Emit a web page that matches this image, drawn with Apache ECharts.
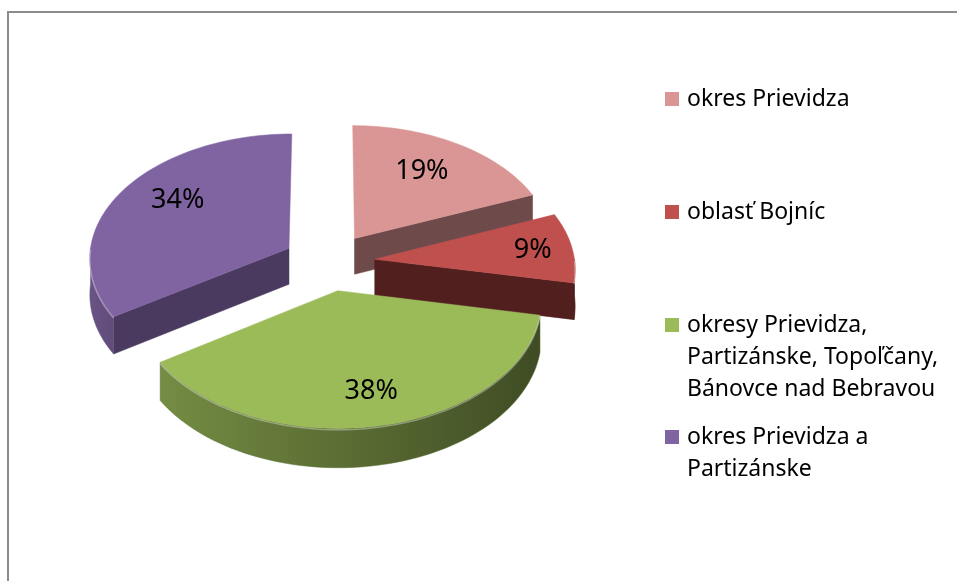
<!DOCTYPE html>
<html>
<head>
<meta charset="utf-8">
<script src="https://cdn.jsdelivr.net/npm/echarts@6/dist/echarts.min.js"></script>
<style>
html, body { margin: 0; padding: 0; background: #fff; }
#chart { width: 957px; height: 581px; }
</style>
</head>
<body>
<div id="chart"></div>
<script>
// data
const categories = ['okres Prievidza', 'oblasť Bojníc', 'okresy Prievidza, Partizánske, Topoľčany, Bánovce nad Bebravou', 'okres Prievidza a Partizánske'];
const legendLabels = ['okres Prievidza', 'oblasť Bojníc', 'okresy Prievidza,\nPartizánske, Topoľčany,\nBánovce nad Bebravou', 'okres Prievidza a\nPartizánske'];
const values = [19, 9, 38, 34];

// styles
const topColors = ['#D99694', '#C0504D', '#9BBB59', '#8064A2'];
const wallColors = ['#6E4B4A', '#521F1F', '#3E4E20', '#4B3A5F'];
const labelRadius = [0.64, 0.8, 0.82, 0.66];
const labelLift = [5, 0, 9, 10];
const seriesZ = [2, 3, 4, 2];
const legendLineCenters = [99, 212, 325, 437];

const FONT = 'Noto Sans';
const EXPLODE = 0.23;   // slice offset, in radii
const DEPTH = 0.29;     // thickness, in y units
const PERSP = 0.07;

const total = values.reduce((a, b) => a + b, 0);
let acc = 0;
const slices = values.map(v => {
  const s = acc / total * 360;
  acc += v;
  return [s, acc / total * 360, v];
});

function shade(hex, f) {
  const n = parseInt(hex.slice(1), 16);
  const c = [(n >> 16) & 255, (n >> 8) & 255, n & 255].map(x => Math.round(x * f));
  return 'rgb(' + c.join(',') + ')';
}
function sideFactor(deg) {
  return 0.38 + 0.45 * (deg - 90) / 180;
}

function makeRender(idx) {
  return function (params, api) {
    const s = api.value(0), e = api.value(1), val = api.value(2);
    const mid = (s + e) / 2 * Math.PI / 180;
    const ox = EXPLODE * Math.sin(mid), oy = -EXPLODE * Math.cos(mid);
    const pt = (deg, r, h) => {
      const a = deg * Math.PI / 180;
      const u = ox + r * Math.sin(a);
      const v = oy - r * Math.cos(a);
      const p = 1 + PERSP * v;
      return api.coord([u * p, (v + h) * p]);
    };
    const arc = (a, b, h) => {
      const pts = [];
      const n = Math.max(2, Math.ceil((b - a) / 2));
      for (let k = 0; k <= n; k++) pts.push(pt(a + (b - a) * k / n, 1, h));
      return pts;
    };
    const children = [];
    const col = topColors[idx];
    // radial walls
    if (-Math.sin(s * Math.PI / 180) > 0.01) {
      children.push({ type: 'polygon', shape: { points: [pt(s, 0, 0), pt(s, 1, 0), pt(s, 1, DEPTH), pt(s, 0, DEPTH)] },
        style: { fill: wallColors[idx], stroke: wallColors[idx], lineWidth: 0.5 } });
    }
    if (Math.sin(e * Math.PI / 180) > 0.01) {
      children.push({ type: 'polygon', shape: { points: [pt(e, 0, 0), pt(e, 1, 0), pt(e, 1, DEPTH), pt(e, 0, DEPTH)] },
        style: { fill: wallColors[idx], stroke: wallColors[idx], lineWidth: 0.5 } });
    }
    // outer curved wall (front half only)
    const a = Math.max(s, 90), b = Math.min(e, 270);
    if (b > a) {
      const pts = arc(a, b, 0).concat(arc(a, b, DEPTH).reverse());
      children.push({ type: 'polygon', shape: { points: pts },
        style: {
          fill: new echarts.graphic.LinearGradient(0, 0, 1, 0, [
            { offset: 0, color: shade(col, sideFactor(b)) },
            { offset: 0.5, color: shade(col, sideFactor((a + b) / 2)) },
            { offset: 1, color: shade(col, sideFactor(a)) }
          ]),
          stroke: shade(col, sideFactor((a + b) / 2)), lineWidth: 0.5
        } });
    }
    // top face
    children.push({ type: 'polygon', shape: { points: [pt(s, 0, 0)].concat(arc(s, e, 0)) },
      style: { fill: col, stroke: col, lineWidth: 0.5 } });
    if (b > a) {
      children.push({ type: 'polyline', shape: { points: arc(a, b, 0.01) },
        style: { fill: null, stroke: 'rgba(255,255,255,0.35)', lineWidth: 1.5 } });
    }
    // percentage label
    const lp = pt((s + e) / 2, labelRadius[idx], 0);
    children.push({ type: 'text', x: lp[0], y: lp[1] - labelLift[idx],
      style: { text: val + '%', fill: '#000', fontSize: 27, fontFamily: FONT, align: 'center', verticalAlign: 'middle' } });
    return { type: 'group', children: children };
  };
}

const chart = echarts.init(document.getElementById('chart'));
chart.setOption({
  animation: false,
  grid: { left: 9, top: 62, width: 640, height: 400 },
  xAxis: { type: 'value', min: -1.6, max: 1.6, show: false },
  yAxis: { type: 'value', min: -1.6, max: 1.6, inverse: true, show: false },
  graphic: [{
    type: 'polyline', silent: true,
    shape: { points: [[8, 581], [8, 12], [957, 12]] },
    style: { stroke: '#8c8c8c', lineWidth: 2, fill: null }
  }],
  legend: categories.map((name, i) => {
    const lines = legendLabels[i].split('\n').length;
    const h = 14 + 32 * (lines - 1);
    return {
      data: [name],
      left: 665,
      top: legendLineCenters[i] - 16,
      padding: 0,
      selectedMode: false,
      icon: 'path://M0 0H14V14H0Z M17 ' + h + 'L17.01 ' + h,
      itemWidth: 17,
      itemHeight: h,
      formatter: () => legendLabels[i],
      textStyle: { fontFamily: FONT, fontSize: 23, lineHeight: 32, color: '#000' }
    };
  }),
  series: categories.map((name, i) => ({
    type: 'custom',
    name: name,
    z: seriesZ[i],
    clip: false,
    itemStyle: { color: topColors[i], borderWidth: 0 },
    renderItem: makeRender(i),
    data: [slices[i]]
  }))
});
</script>
</body>
</html>
